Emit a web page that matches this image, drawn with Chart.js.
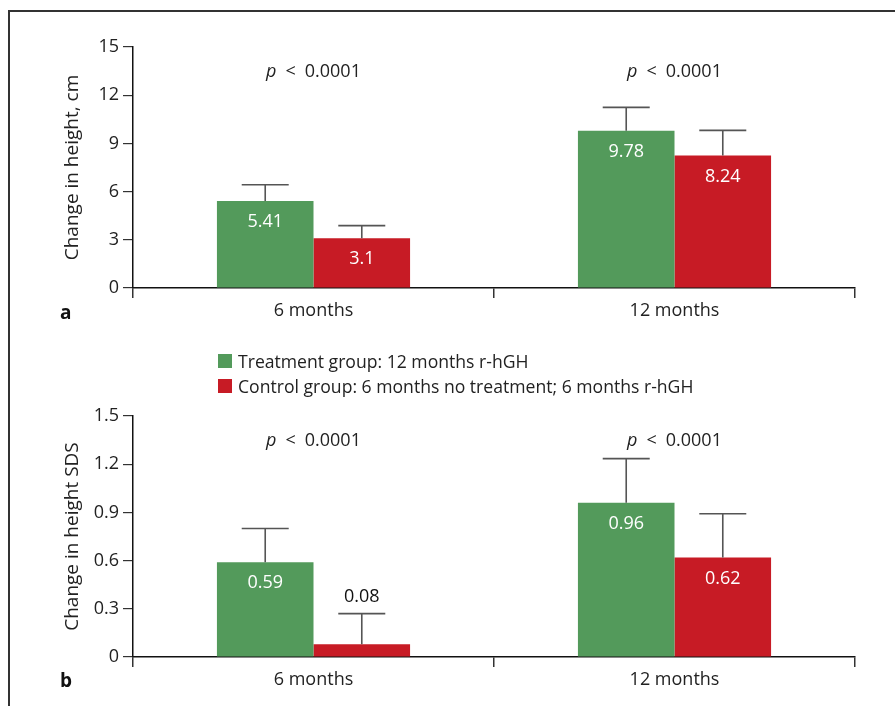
<!DOCTYPE html>
<html>
<head>
<meta charset="utf-8">
<script src="https://cdn.jsdelivr.net/npm/chart.js@4.4.1/dist/chart.umd.min.js"></script>
<style>
  html, body { margin:0; padding:0; width:895px; height:706px; overflow:hidden; background:#fff; font-family:"Open Sans", sans-serif; }
  .frame-top { position:absolute; left:9px; top:10px; width:886px; height:2px; background:#333; }
  .frame-left { position:absolute; left:8px; top:10px; width:2px; height:696px; background:#333; }
  canvas { position:absolute; left:0; }
  #c1 { top:0; }
  #c2 { top:369px; }
  .legend { position:absolute; left:218px; z-index:5; font-size:17.6px; color:#222; line-height:20px; }
  .legend .row { position:absolute; white-space:nowrap; height:20px; }
  .legend .sw { position:absolute; left:0; top:3px; width:14px; height:14px; }
  .legend .tx { position:absolute; left:20px; top:0; }
  .panel { position:absolute; font-weight:bold; font-size:19px; color:#111; z-index:5; }
</style>
</head>
<body>
<div class="frame-top"></div>
<div class="frame-left"></div>
<canvas id="c1" width="895" height="340"></canvas>
<canvas id="c2" width="895" height="340"></canvas>
<div class="legend">
  <div class="row" style="top:351px"><div class="sw" style="background:#539A5B"></div><div class="tx">Treatment group: 12 months r-hGH</div></div>
  <div class="row" style="top:376px"><div class="sw" style="background:#C71B25"></div><div class="tx">Control group: 6 months no treatment; 6 months r-hGH</div></div>
</div>
<div class="panel" style="left:60px; top:299px">a</div>
<div class="panel" style="left:60px; top:667px">b</div>
<script>
// ---- data ----
const categories = ['6 months', '12 months'];
const seriesNames = ['Treatment group: 12 months r-hGH', 'Control group: 6 months no treatment; 6 months r-hGH'];
const heightTreatment = [5.41, 9.78];
const heightControl = [3.1, 8.24];
const heightTreatmentErr = [1.02, 1.46];
const heightControlErr = [0.78, 1.57];
const sdsTreatment = [0.59, 0.96];
const sdsControl = [0.08, 0.62];
const sdsTreatmentErr = [0.21, 0.275];
const sdsControlErr = [0.19, 0.272];
const heightTicks = [0, 3, 6, 9, 12, 15];
const sdsTicks = [0, 0.3, 0.6, 0.9, 1.2, 1.5];
const pThresholds = ['0.0001', '0.0001'];

const GREEN = '#539A5B', RED = '#C71B25';
const FONT = '"Open Sans", sans-serif';

const overlay = {
  id: 'overlay',
  afterDatasetsDraw(chart) {
    const ctx = chart.ctx;
    const y = chart.scales.y;
    ctx.save();
    chart.data.datasets.forEach((ds, di) => {
      const meta = chart.getDatasetMeta(di);
      meta.data.forEach((bar, i) => {
        const v = ds.data[i];
        const top = y.getPixelForValue(v + ds.err[i]);
        const barTop = bar.y;
        ctx.strokeStyle = '#555';
        ctx.lineWidth = 1.6;
        ctx.beginPath();
        ctx.moveTo(bar.x, barTop);
        ctx.lineTo(bar.x, top);
        ctx.moveTo(bar.x - 23.5, top);
        ctx.lineTo(bar.x + 23.5, top);
        ctx.stroke();
        ctx.font = '18px ' + FONT;
        ctx.textAlign = 'center';
        ctx.textBaseline = 'middle';
        const h = bar.base - barTop;
        if (h < 30) {
          ctx.fillStyle = '#111';
          ctx.fillText(String(v), bar.x, top - 17);
        } else {
          ctx.fillStyle = '#fff';
          ctx.fillText(String(v), bar.x, barTop + 21);
        }
      });
    });
    const x = chart.scales.x;
    categories.forEach((c, i) => {
      const cx = x.getPixelForValue(i);
      const py = chart.chartArea.top + 25;
      const gap = 9;
      ctx.textBaseline = 'middle';
      ctx.textAlign = 'left';
      ctx.fillStyle = '#222';
      ctx.font = 'italic 18px ' + FONT;
      const pw = ctx.measureText('p').width;
      ctx.font = '18px ' + FONT;
      const lw = ctx.measureText('<').width;
      const nw = ctx.measureText(pThresholds[i]).width;
      const start = cx - (pw + lw + nw + 2 * gap) / 2;
      ctx.font = 'italic 18px ' + FONT;
      ctx.fillText('p', start, py);
      ctx.font = '18px ' + FONT;
      ctx.fillText('<', start + pw + gap, py);
      ctx.fillText(pThresholds[i], start + pw + lw + 2 * gap, py);
    });
    ctx.restore();
  }
};

function makeChart(id, a, b, ea, eb, ticks, title, fmt) {
  return new Chart(document.getElementById(id), {
    type: 'bar',
    data: {
      labels: categories,
      datasets: [
        { label: seriesNames[0], data: a, err: ea, backgroundColor: GREEN, categoryPercentage: 0.535, barPercentage: 1.0 },
        { label: seriesNames[1], data: b, err: eb, backgroundColor: RED, categoryPercentage: 0.535, barPercentage: 1.0 }
      ]
    },
    options: {
      responsive: false,
      animation: false,
      devicePixelRatio: 1,
      layout: { padding: { left: 57, right: 40, top: 47, bottom: 0 } },
      plugins: { legend: { display: false }, tooltip: { enabled: false } },
      scales: {
        x: {
          offset: true,
          grid: { display: true, drawOnChartArea: false, drawTicks: true, offset: true, tickLength: 10, color: '#333', lineWidth: 1.5 },
          border: { display: true, color: '#111', width: 1.5 },
          ticks: { color: '#222', font: { family: FONT, size: 18 }, padding: 2 },
          afterFit: (s) => { s.height = 52; }
        },
        y: {
          min: ticks[0], max: ticks[ticks.length - 1],
          afterBuildTicks: (s) => { s.ticks = ticks.map(v => ({ value: v })); },
          grid: { display: true, drawOnChartArea: false, drawTicks: true, tickLength: 10, color: '#333', lineWidth: 1.2 },
          border: { display: true, color: '#111', width: 1.5 },
          ticks: { color: '#222', font: { family: FONT, size: 18 }, padding: 4, callback: (v) => fmt(v) },
          title: { display: true, text: title, color: '#222', font: { family: FONT, size: 19 }, padding: { top: 4, bottom: 4 } },
          afterFit: (s) => { s.width = 76; }
        }
      }
    },
    plugins: [overlay]
  });
}

makeChart('c1', heightTreatment, heightControl, heightTreatmentErr, heightControlErr, heightTicks, 'Change in height, cm', v => String(v));
makeChart('c2', sdsTreatment, sdsControl, sdsTreatmentErr, sdsControlErr, sdsTicks, 'Change in height SDS', v => (v === 0 ? '0' : v.toFixed(1)));
</script>
</body>
</html>
